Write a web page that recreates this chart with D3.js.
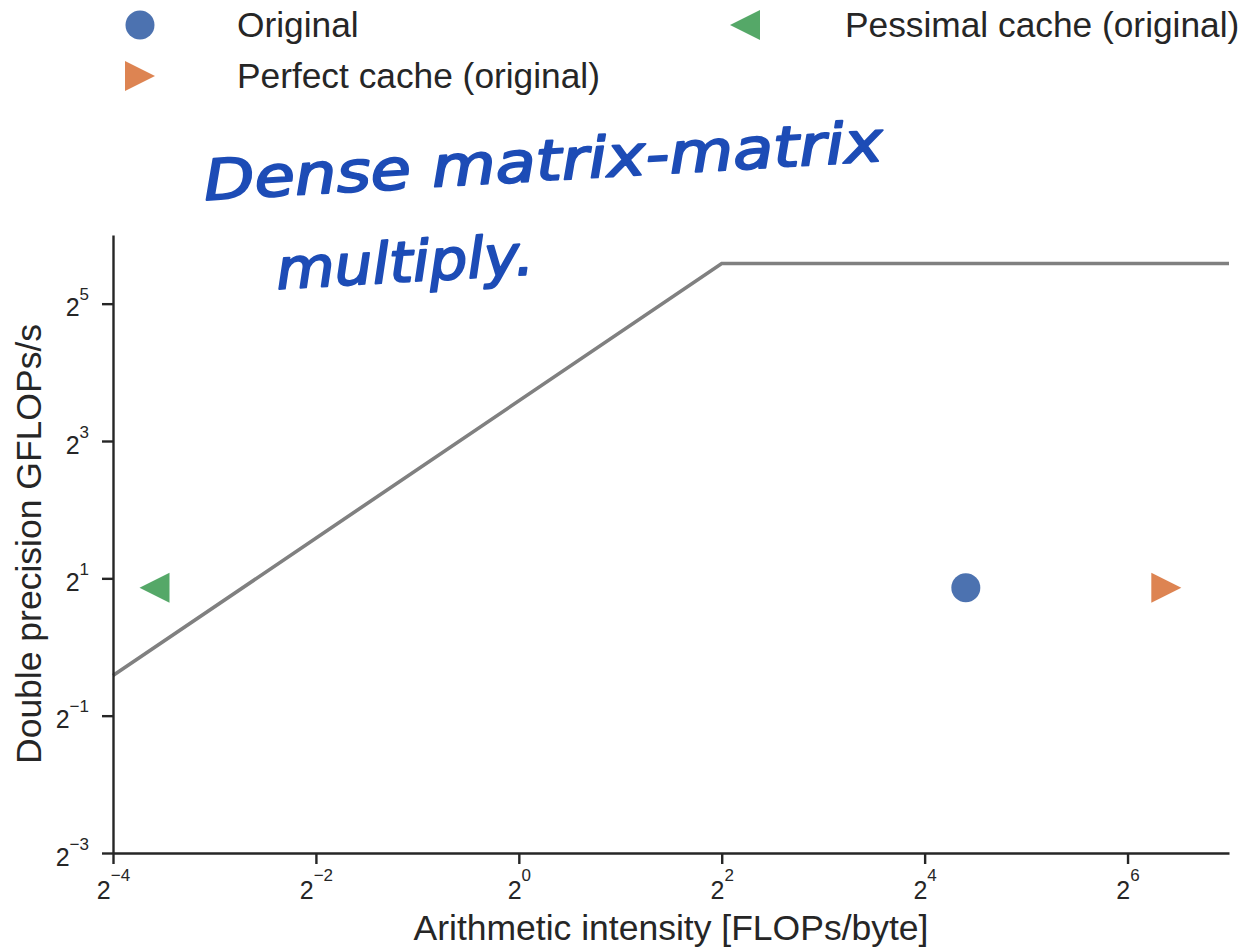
<!DOCTYPE html>
<html><head><meta charset="utf-8">
<script src="https://cdn.jsdelivr.net/npm/d3@7"></script>
<style>
body{margin:0;background:#fff}
svg text{font-family:"Liberation Sans",Arial,sans-serif;fill:#262626}
</style>
</head><body><svg id="c" width="1252" height="948"></svg>
<script>
// ---- data ----
const seriesNames = ["Original", "Perfect cache (original)", "Pessimal cache (original)"];
const seriesColors = ["#4c72b0", "#dd8452", "#55a868"];
const seriesMarkers = ["circle", "triRight", "triLeft"];
const seriesAI = [21.2, 83.4, 0.083];
const seriesPerf = [1.82, 1.82, 1.82];
const roofAI = [0.0625, 4, 128];
const roofPerf = [0.75, 48, 48];
const xTickExp = [-4, -2, 0, 2, 4, 6];
const yTickExp = [-3, -1, 1, 3, 5];
const xLabel = "Arithmetic intensity [FLOPs/byte]";
const yLabel = "Double precision GFLOPs/s";
const noteLines = ["Dense matrix-matrix", "multiply."];

// ---- layout ----
const L = 113, R = 1229, T = 235, B = 853;
const svg = d3.select("#c");

const x = d3.scaleLog().base(2).domain([Math.pow(2, -4), Math.pow(2, 7)]).range([L, R]);
const y = d3.scaleLog().base(2).domain([Math.pow(2, -3), Math.pow(2, 6)]).range([B, T]);

function markerPath(type, s) {
  if (type === "circle") {
    return d3.symbol().type(d3.symbolCircle).size(Math.PI * s * s)();
  }
  const p = d3.path();
  if (type === "triRight") { p.moveTo(s, 0); p.lineTo(-s, -s); p.lineTo(-s, s); }
  else { p.moveTo(-s, 0); p.lineTo(s, -s); p.lineTo(s, s); }
  p.closePath();
  return p.toString();
}

// roofline
svg.append("path")
  .datum(roofAI.map((a, i) => [a, roofPerf[i]]))
  .attr("fill", "none").attr("stroke", "#808080").attr("stroke-width", 3.6)
  .attr("d", d3.line().x(d => x(d[0])).y(d => y(d[1])));

// axes
const xAxis = svg.append("g").attr("transform", `translate(0,${B})`)
  .call(d3.axisBottom(x).tickValues(xTickExp.map(e => Math.pow(2, e))).tickSize(11).tickSizeOuter(0).tickFormat(""));
const yAxis = svg.append("g").attr("transform", `translate(${L},0)`)
  .call(d3.axisLeft(y).tickValues(yTickExp.map(e => Math.pow(2, e))).tickSize(11).tickSizeOuter(0).tickFormat(""));
[xAxis, yAxis].forEach(g => {
  g.select(".domain").attr("stroke", "#262626").attr("stroke-width", 2.4);
  g.selectAll(".tick line").attr("stroke", "#262626").attr("stroke-width", 2.4);
});

// x tick labels
xAxis.selectAll(".tick").each(function (d, i) {
  const t = d3.select(this).select("text").text(null)
    .attr("y", 46).attr("dy", null).attr("x", 0)
    .attr("text-anchor", "middle").attr("fill", "#262626");
  t.append("tspan").attr("font-size", 25).text("2");
  t.append("tspan").attr("font-size", 17).attr("dy", -18).text(xTickExp[i] < 0 ? "\u2212" + (-xTickExp[i]) : xTickExp[i]);
});
// y tick labels
yAxis.selectAll(".tick").each(function (d, i) {
  const t = d3.select(this).select("text").text(null)
    .attr("y", 12).attr("dy", null).attr("x", -24)
    .attr("text-anchor", "end").attr("fill", "#262626");
  t.append("tspan").attr("font-size", 25).text("2");
  t.append("tspan").attr("font-size", 17).attr("dy", -16).text(yTickExp[i] < 0 ? "\u2212" + (-yTickExp[i]) : yTickExp[i]);
});

// axis labels
svg.append("text").attr("x", (L + R) / 2).attr("y", 940).attr("text-anchor", "middle")
  .attr("font-size", 35.5).text(xLabel);
svg.append("text").attr("transform", `translate(41,${(T + B) / 2})rotate(-90)`)
  .attr("text-anchor", "middle").attr("font-size", 35.5).text(yLabel);

// points
svg.append("g").selectAll("path.pt").data(seriesNames).join("path")
  .attr("class", "pt")
  .attr("transform", (d, i) => `translate(${x(seriesAI[i])},${y(seriesPerf[i])})`)
  .attr("d", (d, i) => markerPath(seriesMarkers[i], seriesMarkers[i] === "circle" ? 14.5 : 15))
  .attr("fill", (d, i) => seriesColors[i]);

// legend (2 columns, column-major)
const legColMarker = [140, 745], legColText = [237, 845], legRowY = [25, 76];
const leg = svg.append("g").selectAll("g").data(seriesNames).join("g")
  .attr("transform", (d, i) => `translate(0,${legRowY[i % 2]})`);
leg.append("path")
  .attr("transform", (d, i) => `translate(${legColMarker[Math.floor(i / 2)]},0)`)
  .attr("d", (d, i) => markerPath(seriesMarkers[i], seriesMarkers[i] === "circle" ? 14.5 : 15))
  .attr("fill", (d, i) => seriesColors[i]);
leg.append("text")
  .attr("x", (d, i) => legColText[Math.floor(i / 2)]).attr("y", 12)
  .attr("font-size", 35.3).text(d => d);

// handwritten note
const note = svg.append("g").attr("transform", "rotate(-3.3,205,200)");
[[205, 200, 680], [272, 293, 258]].forEach((p, i) => {
  note.append("text").attr("x", p[0]).attr("y", p[1])
    .attr("textLength", p[2]).attr("lengthAdjust", "spacingAndGlyphs")
    .attr("font-size", 56).attr("font-style", "italic")
    .style("font-family", "'DejaVu Sans',sans-serif")
    .style("fill", "#1d4cb6").style("stroke", "#1d4cb6").style("stroke-width", 2)
    .style("stroke-linejoin", "round")
    .text(noteLines[i]);
});
</script>
</body></html>
